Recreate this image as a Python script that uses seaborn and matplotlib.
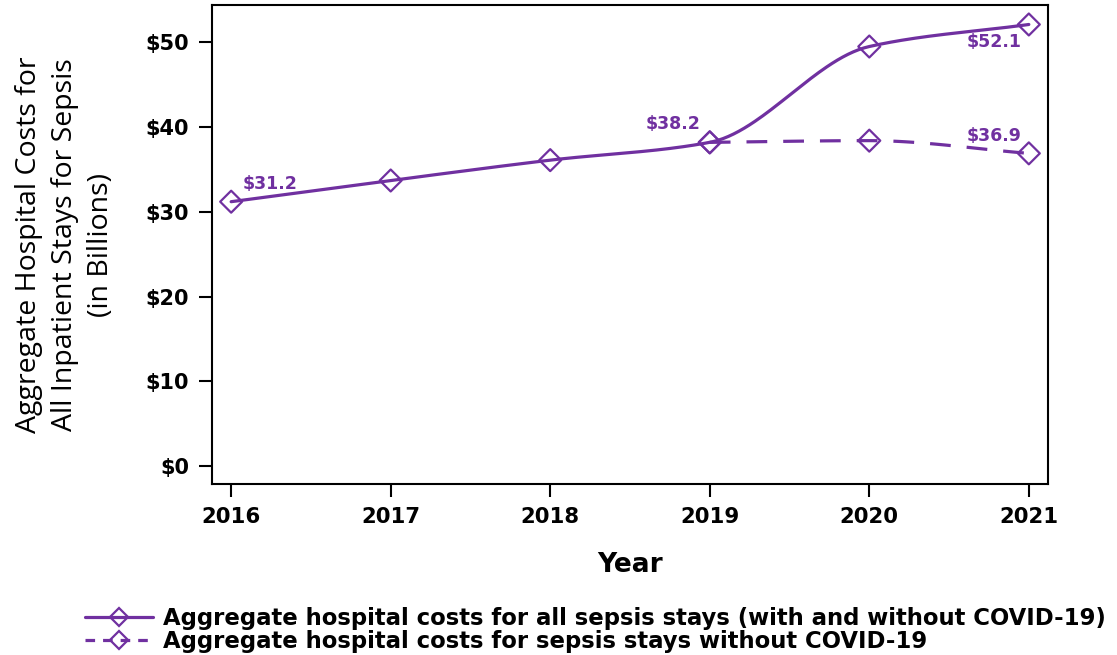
import numpy as np
import pandas as pd
import matplotlib
matplotlib.use("Agg")
import matplotlib.pyplot as plt
import seaborn as sns
from matplotlib.lines import Line2D

# Data (billions of US dollars)
years = [2016, 2017, 2018, 2019, 2020, 2021]
all_costs = [31.2, 33.7, 36.1, 38.2, 49.5, 52.1]
years_no_covid = [2019, 2020, 2021]
no_covid_costs = [38.2, 38.4, 36.9]

label_all = "Aggregate hospital costs for all sepsis stays (with and without COVID-19)"
label_no_covid = "Aggregate hospital costs for sepsis stays without COVID-19"
y_ticks = [0, 10, 20, 30, 40, 50]
y_tick_labels = ["$0", "$10", "$20", "$30", "$40", "$50"]

PURPLE = "#7030A0"


def smooth_connect(x, y, n=60):
    """Monotone cubic (PCHIP-style) path through the points, for drawing only."""
    x = np.asarray(x, float)
    y = np.asarray(y, float)
    h = np.diff(x)
    d = np.diff(y) / h
    m = np.zeros_like(y)
    for i in range(1, len(y) - 1):
        if d[i - 1] * d[i] > 0:
            m[i] = 2 * d[i - 1] * d[i] / (d[i - 1] + d[i])
    m[0] = d[0]
    m[-1] = d[-1]
    xs, ys = [], []
    for i in range(len(x) - 1):
        t = np.linspace(0, 1, n, endpoint=(i == len(x) - 2))
        h00 = 2 * t**3 - 3 * t**2 + 1
        h10 = t**3 - 2 * t**2 + t
        h01 = -2 * t**3 + 3 * t**2
        h11 = t**3 - t**2
        xs.append(x[i] + t * h[i])
        ys.append(h00 * y[i] + h10 * h[i] * m[i] + h01 * y[i + 1] + h11 * h[i] * m[i + 1])
    return np.concatenate(xs), np.concatenate(ys)


sns.set_theme(style="white")
plt.rcParams["font.family"] = ["DejaVu Sans"]
plt.rcParams["text.color"] = "black"
plt.rcParams["axes.labelcolor"] = "black"
plt.rcParams["xtick.color"] = "black"
plt.rcParams["ytick.color"] = "black"

fig = plt.figure(figsize=(11.17, 6.55), dpi=100)
ax = fig.add_axes([0.1898, 0.261, 0.7484, 0.7314])

sx, sy = smooth_connect(years, all_costs)
sns.lineplot(x=sx, y=sy, ax=ax, color=PURPLE, linewidth=2.3, sort=False)
dx, dy = smooth_connect(years_no_covid, no_covid_costs)
sns.lineplot(x=dx, y=dy, ax=ax, color=PURPLE, linewidth=2.3, sort=False,
             linestyle=(0, (6.5, 5)))

pts = pd.DataFrame({"year": years + years_no_covid,
                    "cost": all_costs + no_covid_costs})
sns.scatterplot(data=pts, x="year", y="cost", ax=ax, marker="D", s=125,
                facecolor="none", edgecolor=PURPLE, linewidth=1.6, zorder=5)

# Value labels
ann = dict(color=PURPLE, fontsize=12.5, fontweight="bold")
ax.annotate(f"${all_costs[0]}", (years[0], all_costs[0]), xytext=(8, 6),
            textcoords="offset points", ha="left", va="bottom", **ann)
ax.annotate(f"${all_costs[3]}", (years[3], all_costs[3]), xytext=(-7, 7),
            textcoords="offset points", ha="right", va="bottom", **ann)
ax.annotate(f"${all_costs[5]}", (years[5], all_costs[5]), xytext=(-5, -6),
            textcoords="offset points", ha="right", va="top", **ann)
ax.annotate(f"${no_covid_costs[2]}", (years_no_covid[2], no_covid_costs[2]),
            xytext=(-5, 6), textcoords="offset points", ha="right",
            va="bottom", **ann)

ax.set_xlim(2015.88, 2021.12)
ax.set_ylim(-2.1, 54.4)
ax.set_xticks(years)
ax.set_xticklabels([str(y) for y in years], fontsize=15.3, fontweight="bold")
ax.set_yticks(y_ticks)
ax.set_yticklabels(y_tick_labels, fontsize=15, fontweight="bold")
ax.tick_params(axis="both", direction="out", length=9.5, width=1.5,
               color="black", pad=7, bottom=True, left=True)
for sp in ax.spines.values():
    sp.set_color("black")
    sp.set_linewidth(1.5)

ax.set_xlabel("Year", fontsize=19, fontweight="bold", labelpad=18)
ax.set_ylabel("Aggregate Hospital Costs for\nAll Inpatient Stays for Sepsis\n(in Billions)",
              fontsize=20.5, family=["Open Sans", "DejaVu Sans"],
              linespacing=1.38, labelpad=22)

handles = [
    Line2D([], [], color=PURPLE, lw=2.3, marker="D", ms=9.5,
           mfc="none", mec=PURPLE, mew=1.6),
    Line2D([], [], color=PURPLE, lw=2.3, ls=(0, (3, 2.5)), marker="D", ms=9.5,
           mfc="none", mec=PURPLE, mew=1.6),
]
fig.legend(handles, [label_all, label_no_covid], loc="upper left",
           bbox_to_anchor=(0.076, 0.0735), frameon=False,
           prop={"weight": "bold", "size": 16.4}, handlelength=3.0,
           handletextpad=0.45, labelspacing=0.0, borderpad=0,
           borderaxespad=0, bbox_transform=fig.transFigure)

fig.savefig("out.png", dpi=100)
